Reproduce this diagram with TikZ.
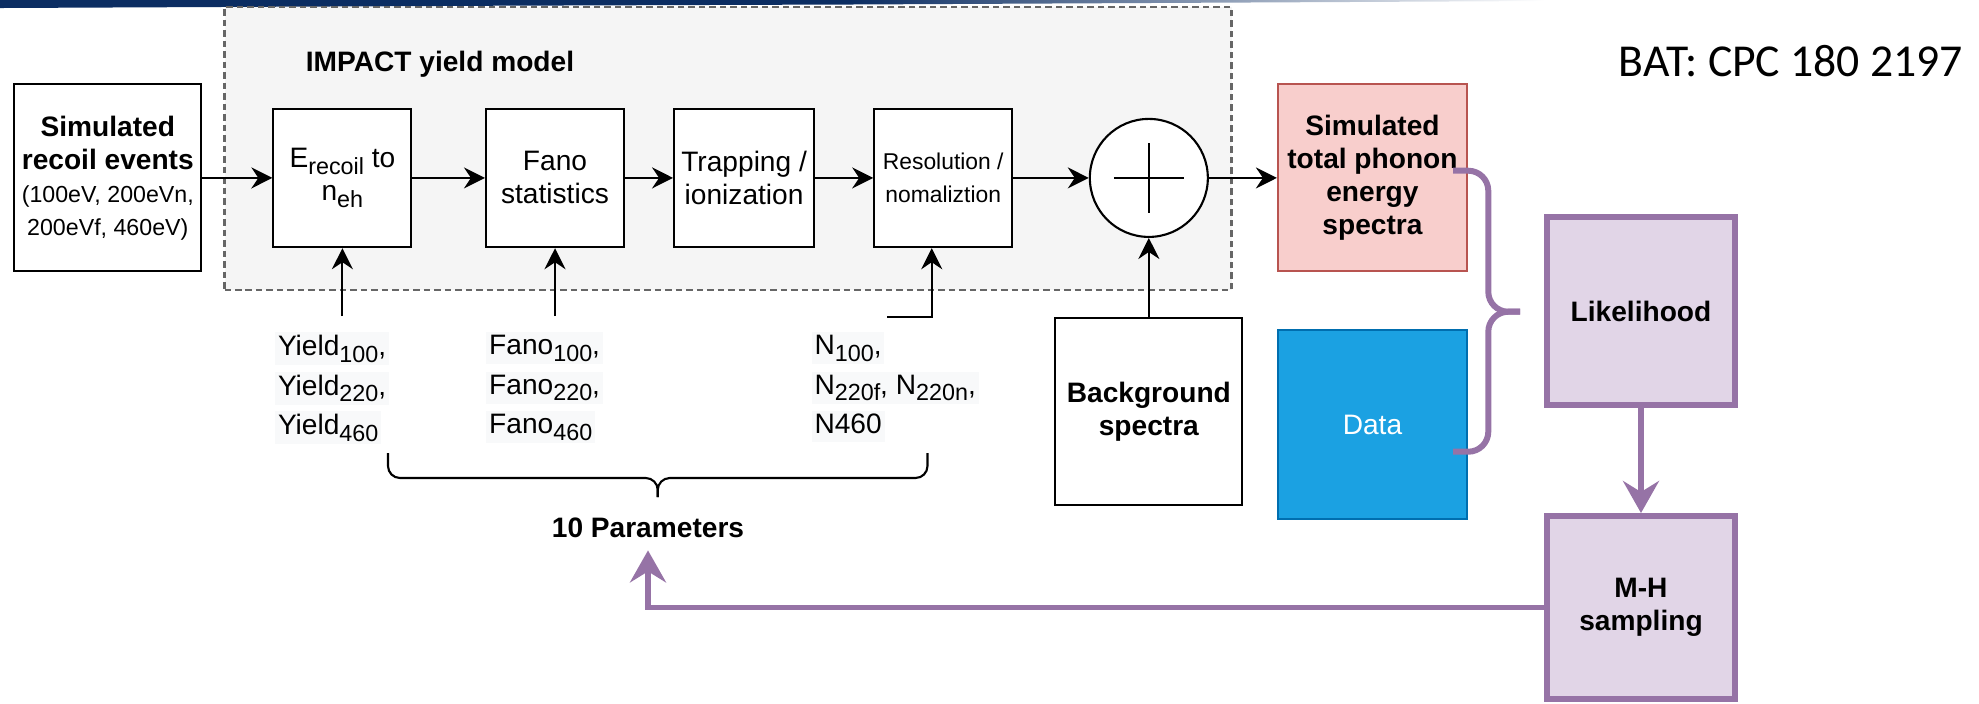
\documentclass[tikz,border=0pt]{standalone}
\usepackage{fontspec}
\setmainfont{Liberation Sans}
\newfontfamily\batfont{Carlito}
\usepackage{graphicx}
\usetikzlibrary{arrows.meta,positioning,calc}
\definecolor{frameg}{HTML}{F5F5F5}
\definecolor{frameln}{HTML}{666666}
\definecolor{pinkf}{HTML}{F8CECC}
\definecolor{pinkd}{HTML}{B85450}
\definecolor{bluef}{HTML}{1BA1E2}
\definecolor{blued}{HTML}{006EAF}
\definecolor{purf}{HTML}{E1D5E7}
\definecolor{purd}{HTML}{9673A6}
\definecolor{hlgray}{HTML}{F8F9FA}
\definecolor{navy}{HTML}{0B2D62}
\newcommand{\dsub}[1]{\raisebox{-0.45ex}{\scalebox{0.83}{#1}}}
\newcommand{\hlbox}[1]{{\setlength{\fboxsep}{0.8pt}\colorbox{hlgray}{\vphantom{Ay}#1}}}
\newcommand{\smalltxt}{\mdseries\fontsize{6.6}{9.4}\selectfont}

\begin{document}
\begin{tikzpicture}[
  blk/.style={rectangle, draw, line width=0.6pt, fill=white, inner sep=0pt,
              minimum width=1.38cm, minimum height=1.385cm, align=center,
              font=\fontsize{8}{9.4}\selectfont},
  big/.style={blk, minimum width=1.87cm, minimum height=1.87cm,
              font=\fontsize{8}{9.4}\selectfont\bfseries},
  pur/.style={big, draw=purd, fill=purf, line width=1.7pt,
              minimum width=1.88cm, minimum height=1.88cm},
  arr/.style={draw, line width=0.6pt,
              -{Stealth[length=0.21cm, width=0.21cm, inset=0.07cm]}},
  parr/.style={draw=purd, line width=1.7pt,
               -{Stealth[length=0.32cm, width=0.36cm, inset=0.11cm]}},
  lbl/.style={inner sep=0pt, align=left, anchor=north west,
              font=\fontsize{8}{11.24}\selectfont},
  node distance=0.7cm
]
\useasboundingbox (0,0) rectangle (19.79,-7.03);
% slide header bar
\fill[navy] (0,0) -- (8.5,0) -- (8.5,-0.045) -- (5,-0.057) -- (0,-0.08) -- cycle;
\shade[left color=navy, right color=white]
  (8.5,0) -- (15.45,0) -- (15.45,-0.01) -- (8.5,-0.045) -- cycle;
% yield model frame
\node[draw=frameln, fill=frameg, line width=0.6pt,
      dash pattern=on 0.065cm off 0.04cm, inner sep=0pt,
      minimum width=10.07cm, minimum height=2.83cm] (frame) at (7.28,-1.485) {};
\node[font=\fontsize{8}{9.4}\selectfont\bfseries, anchor=base] (ttl) at (4.40,-0.71)
  {IMPACT yield model};
\node[font=\batfont\fontsize{13}{15}\selectfont, anchor=base] (bat) at (17.91,-0.76)
  {BAT: CPC 180 2197};
% chain
\node[big] (sim) at (1.078,-1.779) {Simulated\\recoil events\\
  {\smalltxt (100eV, 200eVn,}\\{\smalltxt 200eVf, 460eV)}};
\node[blk, right=0.70cm of sim]  (erec) {E\dsub{recoil} to\\n\dsub{eh}};
\node[blk, right=0.725cm of erec] (fano) {Fano\\statistics};
\node[blk, minimum width=1.40cm, right=0.48cm of fano] (trap) {Trapping /\\ionization};
\node[blk, right=0.58cm of trap, font=\fontsize{6.5}{9.4}\selectfont] (reso)
  {Resolution /\\nomaliztion};
\node[circle, draw, line width=0.6pt, fill=white, minimum size=1.18cm,
      right=0.755cm of reso] (sum) {};
\draw[line width=0.6pt] ($(sum.center)+(-0.35,0)$) -- ($(sum.center)+(0.35,0)$)
  ($(sum.center)+(0,-0.35)$) -- ($(sum.center)+(0,0.35)$);
\node[big, draw=pinkd, fill=pinkf, minimum width=1.89cm, right=0.68cm of sum] (phon)
  {Simulated\\total phonon\\energy\\spectra};
\node[big, below=0.79cm of sum] (bkg) {Background\\spectra};
\node[big, draw=blued, fill=bluef, minimum width=1.89cm, minimum height=1.89cm,
      font=\fontsize{8}{9.4}\selectfont, text=white, below=0.565cm of phon] (data) {Data};
\draw[arr] (sim) -- (erec);
\draw[arr] (erec) -- (fano);
\draw[arr] (fano) -- (trap);
\draw[arr] (trap) -- (reso);
\draw[arr] (reso) -- (sum);
\draw[arr] (sum) -- (phon);
\draw[arr] (bkg) -- (sum);
% parameters
\node[lbl] (yld) at (2.745,-3.317)
  {\hlbox{Yield\dsub{100},}\\\hlbox{Yield\dsub{220},}\\\hlbox{Yield\dsub{460}}};
\node[lbl] (fnp) at (4.857,-3.317)
  {\hlbox{Fano\dsub{100},}\\\hlbox{Fano\dsub{220},}\\\hlbox{Fano\dsub{460}}};
\node[lbl] (npar) at (8.11,-3.317)
  {\hlbox{N\dsub{100},}\\\hlbox{N\dsub{220f}, N\dsub{220n},}\\\hlbox{N460}};
\coordinate (yin) at ($(erec.south)+(0,-0.68)$);
\coordinate (fin) at ($(fano.south)+(0,-0.68)$);
\coordinate (nin) at ($(reso.south)+(-0.56,-0.69)$);
\draw[arr] (yin) -- (erec.south);
\draw[arr] (fin) -- (fano.south);
\draw[arr] (nin) -| ([xshift=-0.115cm]reso.south);
% bracket over the parameters
\draw[line width=0.6pt, rounded corners=0.12cm]
  (3.88,-4.53) -- (3.88,-4.78) -- (6.5775,-4.78) -- (6.5775,-4.97);
\draw[line width=0.6pt, rounded corners=0.12cm]
  (9.275,-4.53) -- (9.275,-4.78) -- (6.5775,-4.78) -- (6.5775,-4.97);
\node[font=\fontsize{8}{9.4}\selectfont\bfseries] (par) at (6.48,-5.28) {10 Parameters};
% fit loop
\node[pur] (like) at (16.41,-3.11) {Likelihood};
\node[pur, minimum height=1.83cm, below=1.05cm of like] (mh) {M-H\\sampling};
\draw[purd, line width=1.7pt, rounded corners=0.2cm]
  (14.53,-1.707) -- (14.883,-1.707) -- (14.883,-3.117) -- (15.20,-3.117);
\draw[purd, line width=1.7pt, rounded corners=0.2cm]
  (14.53,-4.517) -- (14.883,-4.517) -- (14.883,-3.117) -- (15.20,-3.117);
\draw[parr] (like) -- (mh);
\draw[parr] (mh.west) -| (par.south);
\end{tikzpicture}
\end{document}
